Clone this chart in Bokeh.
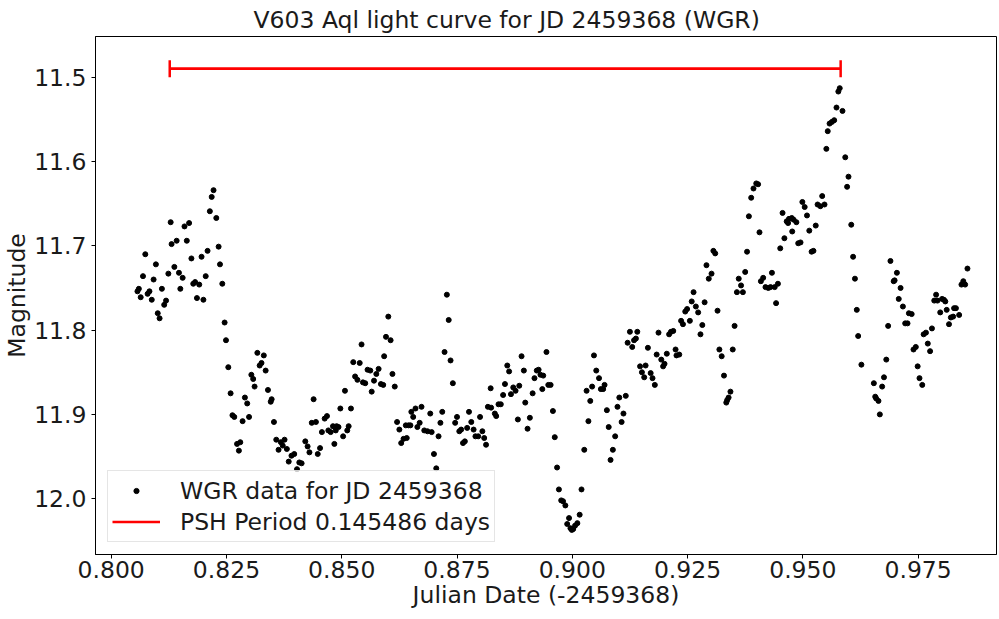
from bokeh.plotting import figure
from bokeh.models import (Range1d, FixedTicker, PrintfTickFormatter, Whisker,
                          TeeHead, ColumnDataSource)
from bokeh.embed import file_html
from bokeh.resources import INLINE

# Julian date offset (-2459368) of each WGR observation
jd = [
    0.8057, 0.8060, 0.8064, 0.8069, 0.8074, 0.8079, 0.8083, 0.8088, 0.8092, 0.8097,
    0.8101, 0.8105, 0.8110, 0.8115, 0.8119, 0.8124, 0.8129, 0.8131, 0.8137, 0.8142,
    0.8147, 0.8150, 0.8155, 0.8159, 0.8164, 0.8169, 0.8174, 0.8178, 0.8182, 0.8186,
    0.8191, 0.8196, 0.8200, 0.8205, 0.8209, 0.8214, 0.8218, 0.8222, 0.8228, 0.8233,
    0.8236, 0.8241, 0.8246, 0.8249, 0.8254, 0.8259, 0.8263, 0.8267, 0.8273, 0.8277,
    0.8280, 0.8285, 0.8290, 0.8295, 0.8299, 0.8304, 0.8308, 0.8311, 0.8317, 0.8322,
    0.8326, 0.8331, 0.8335, 0.8340, 0.8346, 0.8348, 0.8353, 0.8358, 0.8363, 0.8368,
    0.8372, 0.8376, 0.8381, 0.8385, 0.8391, 0.8397, 0.8403, 0.8408, 0.8413, 0.8421,
    0.8426, 0.8430, 0.8435, 0.8439, 0.8444, 0.8448, 0.8453, 0.8457, 0.8463, 0.8468,
    0.8471, 0.8476, 0.8481, 0.8484, 0.8487, 0.8489, 0.8493, 0.8497, 0.8503, 0.8507,
    0.8512, 0.8515, 0.8520, 0.8525, 0.8529, 0.8534, 0.8539, 0.8543, 0.8546, 0.8551,
    0.8556, 0.8562, 0.8565, 0.8570, 0.8575, 0.8580, 0.8585, 0.8590, 0.8592, 0.8596,
    0.8601, 0.8606, 0.8610, 0.8615, 0.8620, 0.8625, 0.8629, 0.8634, 0.8639, 0.8641,
    0.8645, 0.8649, 0.8651, 0.8655, 0.8660, 0.8664, 0.8669, 0.8673, 0.8679, 0.8686,
    0.8692, 0.8695, 0.8700, 0.8705, 0.8710, 0.8714, 0.8718, 0.8723, 0.8728, 0.8732,
    0.8736, 0.8741, 0.8746, 0.8750, 0.8755, 0.8759, 0.8763, 0.8767, 0.8772, 0.8776,
    0.8781, 0.8786, 0.8790, 0.8796, 0.8800, 0.8805, 0.8809, 0.8813, 0.8817, 0.8823,
    0.8824, 0.8832, 0.8835, 0.8840, 0.8845, 0.8850, 0.8854, 0.8859, 0.8863, 0.8867,
    0.8872, 0.8877, 0.8882, 0.8885, 0.8890, 0.8895, 0.8898, 0.8903, 0.8908, 0.8914,
    0.8918, 0.8923, 0.8927, 0.8931, 0.8935, 0.8937, 0.8944, 0.8948, 0.8953, 0.8958,
    0.8962, 0.8967, 0.8971, 0.8976, 0.8980, 0.8985, 0.8989, 0.8993, 0.8996, 0.8999,
    0.9002, 0.9006, 0.9011, 0.9016, 0.9020, 0.9026, 0.9031, 0.9035, 0.9039, 0.9043,
    0.9047, 0.9052, 0.9058, 0.9062, 0.9067, 0.9070, 0.9075, 0.9079, 0.9083, 0.9088,
    0.9093, 0.9098, 0.9102, 0.9107, 0.9111, 0.9116, 0.9120, 0.9125, 0.9130, 0.9134,
    0.9138, 0.9141, 0.9147, 0.9151, 0.9156, 0.9159, 0.9164, 0.9170, 0.9174, 0.9179,
    0.9183, 0.9187, 0.9193, 0.9197, 0.9200, 0.9205, 0.9210, 0.9214, 0.9219, 0.9224,
    0.9226, 0.9232, 0.9236, 0.9240, 0.9245, 0.9249, 0.9255, 0.9259, 0.9263, 0.9268,
    0.9273, 0.9278, 0.9282, 0.9287, 0.9291, 0.9296, 0.9302, 0.9306, 0.9310, 0.9315,
    0.9319, 0.9324, 0.9329, 0.9334, 0.9336, 0.9339, 0.9343, 0.9348, 0.9352, 0.9357,
    0.9361, 0.9366, 0.9370, 0.9375, 0.9379, 0.9383, 0.9388, 0.9393, 0.9399, 0.9403,
    0.9406, 0.9409, 0.9414, 0.9419, 0.9425, 0.9430, 0.9433, 0.9439, 0.9442, 0.9446,
    0.9451, 0.9456, 0.9460, 0.9465, 0.9468, 0.9470, 0.9476, 0.9477, 0.9480, 0.9486,
    0.9490, 0.9495, 0.9499, 0.9504, 0.9509, 0.9514, 0.9519, 0.9523, 0.9528, 0.9532,
    0.9538, 0.9542, 0.9547, 0.9551, 0.9554, 0.9558, 0.9563, 0.9568, 0.9573, 0.9577,
    0.9580, 0.9586, 0.9592, 0.9596, 0.9599, 0.9605, 0.9609, 0.9613, 0.9617, 0.9620,
    0.9627, 0.9654, 0.9657, 0.9659, 0.9664, 0.9667, 0.9672, 0.9676, 0.9681, 0.9685,
    0.9690, 0.9697, 0.9699, 0.9704, 0.9708, 0.9712, 0.9717, 0.9722, 0.9727, 0.9730,
    0.9736, 0.9740, 0.9745, 0.9749, 0.9753, 0.9759, 0.9762, 0.9767, 0.9771, 0.9776,
    0.9780, 0.9785, 0.9789, 0.9792, 0.9798, 0.9802, 0.9806, 0.9809, 0.9812, 0.9817,
    0.9821, 0.9826, 0.9828, 0.9832, 0.9839, 0.9844, 0.9848, 0.9852, 0.9857,
]

# WGR magnitudes
mag = [
    11.754, 11.751, 11.761, 11.736, 11.710, 11.757, 11.754, 11.764, 11.740, 11.722,
    11.780, 11.786, 11.751, 11.770, 11.765, 11.733, 11.672, 11.698, 11.725, 11.694,
    11.732, 11.751, 11.738, 11.677, 11.694, 11.673, 11.715, 11.745, 11.743, 11.762,
    11.746, 11.713, 11.764, 11.736, 11.706, 11.659, 11.642, 11.634, 11.667, 11.701,
    11.722, 11.745, 11.791, 11.812, 11.844, 11.875, 11.901, 11.903, 11.935, 11.943,
    11.933, 11.908, 11.880, 11.887, 11.903, 11.853, 11.858, 11.867, 11.827, 11.842,
    11.839, 11.830, 11.848, 11.871, 11.885, 11.882, 11.909, 11.930, 11.942, 11.933,
    11.937, 11.930, 11.941, 11.956, 11.949, 11.947, 11.965, 11.957, 11.958, 11.932,
    11.938, 11.945, 11.910, 11.882, 11.909, 11.947, 11.940, 11.921, 11.905, 11.902,
    11.919, 11.921, 11.914, 11.935, 11.919, 11.914, 11.915, 11.893, 11.926, 11.872,
    11.919, 11.914, 11.893, 11.838, 11.855, 11.859, 11.839, 11.817, 11.862, 11.863,
    11.847, 11.848, 11.873, 11.860, 11.852, 11.846, 11.864, 11.865, 11.831, 11.808,
    11.784, 11.812, 11.852, 11.867, 11.909, 11.918, 11.934, 11.929, 11.913, 11.928,
    11.913, 11.913, 11.897, 11.903, 11.893, 11.915, 11.910, 11.891, 11.919, 11.920,
    11.899, 11.921, 11.947, 11.964, 11.926, 11.910, 11.897, 11.826, 11.758, 11.788,
    11.836, 11.863, 11.910, 11.903, 11.920, 11.918, 11.934, 11.932, 11.916, 11.897,
    11.909, 11.918, 11.926, 11.926, 11.903, 11.920, 11.928, 11.936, 11.891, 11.869,
    11.892, 11.899, 11.902, 11.888, 11.888, 11.877, 11.864, 11.842, 11.849, 11.876,
    11.868, 11.872, 11.906, 11.866, 11.831, 11.848, 11.886, 11.917, 11.904, 11.875,
    11.857, 11.848, 11.847, 11.853, 11.870, 11.854, 11.826, 11.865, 11.865, 11.896,
    11.927, 11.963, 11.989, 12.002, 12.003, 12.008, 12.030, 12.023, 12.035, 12.037,
    12.036, 12.032, 12.029, 12.019, 11.989, 11.942, 11.872, 11.908, 11.884, 11.867,
    11.830, 11.848, 11.857, 11.870, 11.870, 11.865, 11.895, 11.915, 11.954, 11.942,
    11.926, 11.891, 11.880, 11.909, 11.899, 11.878, 11.815, 11.802, 11.820, 11.812,
    11.810, 11.802, 11.843, 11.850, 11.856, 11.842, 11.821, 11.851, 11.857, 11.865,
    11.829, 11.803, 11.835, 11.843, 11.840, 11.828, 11.805, 11.802, 11.801, 11.823,
    11.830, 11.829, 11.789, 11.793, 11.778, 11.775, 11.789, 11.766, 11.755, 11.772,
    11.779, 11.805, 11.794, 11.767, 11.723, 11.739, 11.733, 11.706, 11.709, 11.777,
    11.823, 11.831, 11.854, 11.886, 11.883, 11.880, 11.873, 11.823, 11.795, 11.755,
    11.739, 11.747, 11.755, 11.731, 11.707, 11.665, 11.643, 11.632, 11.626, 11.627,
    11.684, 11.742, 11.738, 11.749, 11.750, 11.749, 11.732, 11.749, 11.768, 11.745,
    11.703, 11.661, 11.691, 11.671, 11.673, 11.668, 11.667, 11.683, 11.669, 11.672,
    11.697, 11.696, 11.648, 11.654, 11.664, 11.682, 11.707, 11.706, 11.676, 11.651,
    11.653, 11.641, 11.651, 11.585, 11.564, 11.555, 11.553, 11.551, 11.536, 11.517,
    11.513, 11.540, 11.595, 11.630, 11.618, 11.675, 11.713, 11.739, 11.776, 11.807,
    11.841, 11.863, 11.879, 11.881, 11.884, 11.900, 11.867, 11.856, 11.835, 11.795,
    11.718, 11.742, 11.741, 11.732, 11.763, 11.750, 11.772, 11.792, 11.792, 11.780,
    11.781, 11.823, 11.820, 11.843, 11.857, 11.865, 11.805, 11.803, 11.816, 11.825,
    11.798, 11.765, 11.758, 11.765, 11.779, 11.763, 11.764, 11.766, 11.776, 11.793,
    11.785, 11.784, 11.774, 11.774, 11.782, 11.746, 11.742, 11.746, 11.727,
]

# PSH period bar
psh_start = [0.8127]
psh_end = [0.9582]
psh_mag = [11.490]

x_ticks = [0.800, 0.825, 0.850, 0.875, 0.900, 0.925, 0.950, 0.975]
y_ticks = [11.5, 11.6, 11.7, 11.8, 11.9, 12.0]

FONT = "DejaVu Sans"
TXT = "#1a1a1a"

p = figure(frame_width=901, frame_height=518, output_backend="svg",
           toolbar_location=None,
           x_range=Range1d(0.7966, 0.9920), y_range=Range1d(12.0662, 11.4517),
           min_border_left=89, min_border_right=1, min_border_top=29,
           min_border_bottom=20)
p.background_fill_color = "white"
p.border_fill_color = "white"
p.outline_line_color = "black"
p.outline_line_width = 1
p.grid.visible = False

p.title.text = "V603 Aql light curve for JD 2459368 (WGR)"
p.title.text_font = FONT
p.title.text_font_size = "23.5px"
p.title.text_font_style = "normal"
p.title.text_color = TXT
p.title.align = "left"
p.title.offset = 158
p.title.standoff = 6

for ax in (p.xaxis[0], p.yaxis[0]):
    ax.major_tick_in = 0
    ax.major_tick_out = 4
    ax.minor_tick_in = 0
    ax.minor_tick_out = 0
    ax.axis_line_color = "black"
    ax.major_tick_line_color = "black"
    ax.major_label_text_font = FONT
    ax.major_label_text_font_size = "23.5px"
    ax.major_label_text_color = TXT
    ax.axis_label_text_font = FONT
    ax.axis_label_text_font_size = "23.5px"
    ax.axis_label_text_font_style = "normal"
    ax.axis_label_text_color = TXT

p.xaxis.ticker = FixedTicker(ticks=x_ticks)
p.xaxis.formatter = PrintfTickFormatter(format="%.3f")
p.xaxis.axis_label = "Julian Date (-2459368)"
p.xaxis.major_label_standoff = 2
p.xaxis.axis_label_standoff = 0

p.yaxis.ticker = FixedTicker(ticks=y_ticks)
p.yaxis.formatter = PrintfTickFormatter(format="%.1f")
p.yaxis.axis_label = "Magnitude"
p.yaxis.major_label_standoff = 5
p.yaxis.axis_label_standoff = 0

p.scatter(jd, mag, size=5, color="black", legend_label="WGR data for JD 2459368")

psh_src = ColumnDataSource(dict(x0=psh_start, x1=psh_end, y=psh_mag))
p.segment(x0="x0", y0="y", x1="x1", y1="y", source=psh_src, line_color="red",
          line_width=2.5, legend_label="PSH Period 0.145486 days")
whisker = Whisker(source=psh_src, base="y", lower="x0", upper="x1",
                  dimension="width", line_color="red", line_width=2.5,
                  upper_head=TeeHead(size=17, line_color="red", line_width=2.5),
                  lower_head=TeeHead(size=17, line_color="red", line_width=2.5))
p.add_layout(whisker)

lg = p.legend[0]
lg.location = "bottom_left"
lg.margin = 12
lg.padding = 4
lg.spacing = 0
lg.glyph_width = 48
lg.glyph_height = 13
lg.label_height = 31
lg.label_standoff = 20
lg.label_text_font = FONT
lg.label_text_font_size = "23.5px"
lg.label_text_color = TXT
lg.border_line_color = "#cccccc"
lg.border_line_width = 1
lg.background_fill_alpha = 0.8

open("out.html", "w").write(file_html(p, INLINE))
